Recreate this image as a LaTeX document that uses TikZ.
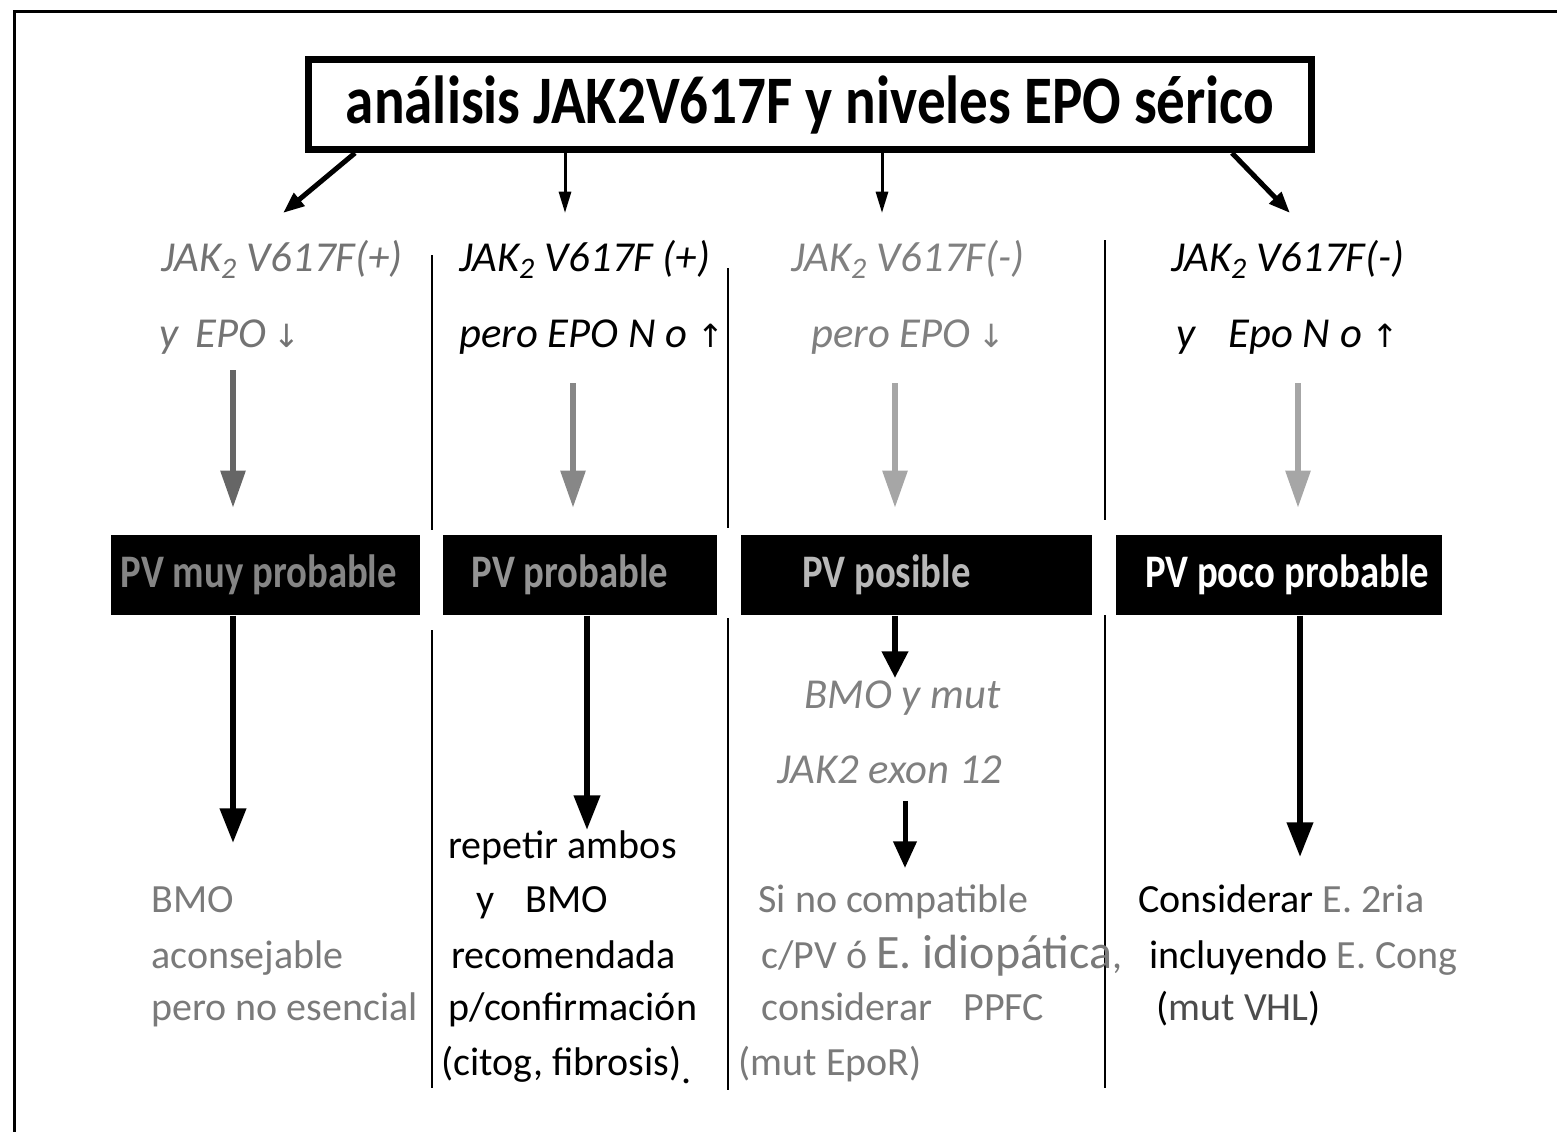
\documentclass[tikz,border=0pt]{standalone}
\usepackage{fontspec}
\setmainfont{Carlito}
\newfontfamily\arrowfont{DejaVu Sans}
\usetikzlibrary{arrows.meta}

\tikzset{every picture/.style={line width=0.75pt}}
\tikzset{
  titlebox/.style={draw, line width=5.25pt, minimum width=752pt, minimum height=67.5pt, inner sep=0pt},
  pvbox/.style={fill=black, inner sep=0pt, minimum height=60pt, font=\fontsize{35}{40}\selectfont\bfseries},
  hdtext/.style={inner sep=0.75pt, anchor=base west, font=\fontsize{32}{38}\selectfont\itshape},
  bodytext/.style={inner sep=0.75pt, anchor=base west, font=\fontsize{30}{36}\selectfont},
  toparrow/.style={line width=2.25pt, -{Triangle[length=16pt,width=9pt]}},
  diagarrow/.style={line width=3.75pt, -{Triangle[length=16pt,width=12pt]}},
  grayarrow/.style={line width=4.5pt, -{Triangle[length=28pt,width=18pt]}, shorten >=20pt},
  blackarrow/.style={line width=4.5pt, -{Triangle[length=26pt,width=19pt]}},
  sepline/.style={line width=1.5pt}
}
\newcommand{\narrow}[2][0.83]{\scalebox{#1}[1]{#2}}
\newcommand{\dn}{{\arrowfont\fontsize{24}{24}\selectfont\char"2193}}
\newcommand{\up}{{\arrowfont\fontsize{24}{24}\selectfont\char"2191}}

\begin{document}
\begin{tikzpicture}[x=0.75pt,y=0.75pt,yscale=-1,xscale=1]
\path[use as bounding box] (0,0) rectangle (1557,1132);

%Frame
\draw [line width=2.25pt] (1557,11) -- (14,11) -- (14,1132) ;

%Title box
\draw (810,104.5) node [titlebox] (title) {\fontsize{51}{54}\selectfont\bfseries\narrow[0.84]{análisis JAK2V617F y niveles EPO sérico}};

%Separators
\draw [sepline] (432,255) -- (432,530) (432,630) -- (432,1088) ;
\draw [sepline] (728,268) -- (728,528) (728,618) -- (728,1090) ;
\draw [sepline] (1105,240) -- (1105,520) (1105,615) -- (1105,1088) ;

% Text Node
\draw (160,271) node [hdtext, color=black!55] (hdA) {JAK\textsubscript{2} V617F(+)};
\draw (158,347) node [hdtext, color=black!55] (hdAb) {y\, EPO\,\dn};
% Text Node
\draw (458,271) node [hdtext] (hdB) {JAK\textsubscript{2} V617F (+)};
\draw (458,347) node [hdtext] (hdBb) {pero EPO N o \up};
% Text Node
\draw (790,271) node [hdtext, color=black!50] (hdC) {JAK\textsubscript{2} V617F(-)};
\draw (810,347) node [hdtext, color=black!50] (hdCb) {pero EPO\,\dn};
% Text Node
\draw (1170,271) node [hdtext] (hdD) {JAK\textsubscript{2} V617F(-)};
\draw (1175,347) node [hdtext] (hdDb) {y\;\; Epo N o \up};

%Arrows from title
\coordinate (tA) at (355,152) ;
\coordinate (eA) at (283,213) ;
\coordinate (eB) at (565,213) ;
\coordinate (eC) at (882,213) ;
\coordinate (tD) at (1232,152) ;
\coordinate (eD) at (1290,213) ;
\draw [diagarrow] (title.south -| tA) -- (eA) ;
\draw [toparrow] (title.south -| eB) -- (eB) ;
\draw [toparrow] (title.south -| eC) -- (eC) ;
\draw [diagarrow] (title.south -| tD) -- (eD) ;

%PV boxes
\draw (265.5,575) node [pvbox, minimum width=231.75pt, text=black!48] (boxA) {\narrow{PV muy probable}\rule{10pt}{0pt}};
\draw (580,575) node [pvbox, minimum width=205.5pt, text=black!42] (boxB) {\narrow{PV probable}\rule{15pt}{0pt}};
\draw (916.5,575) node [pvbox, minimum width=263.25pt, text=black!28] (boxC) {\narrow{PV posible}\rule{45pt}{0pt}};
\draw (1279,575) node [pvbox, minimum width=244.5pt, text=white] (boxD) {\rule{12pt}{0pt}\narrow{PV poco probable}};

%Gray arrows
\coordinate (gA) at (233,370) ;
\coordinate (gB) at (573,383) ;
\coordinate (gC) at (895,383) ;
\coordinate (gD) at (1298,383) ;
\draw [grayarrow, color=black!60] (gA) -- (boxA.north -| gA) ;
\draw [grayarrow, color=black!47] (gB) -- (boxB.north -| gB) ;
\draw [grayarrow, color=black!35] (gC) -- (boxC.north -| gC) ;
\draw [grayarrow, color=black!35] (gD) -- (boxD.north -| gD) ;

%Black arrows
\coordinate (kA) at (233,843) ;
\coordinate (kB) at (587,830) ;
\coordinate (kC) at (895,678) ;
\coordinate (kD) at (1300,857) ;
\draw [blackarrow] (boxA.south -| kA) -- (kA) ;
\draw [blackarrow] (boxB.south -| kB) -- (kB) ;
\draw [blackarrow, -{Triangle[length=20pt,width=19pt]}] (boxC.south -| kC) -- (kC) ;
\draw [blackarrow] (boxD.south -| kD) -- (kD) ;

% Text Node
\draw (803,708) node [hdtext, color=black!50] (midC) {BMO y mut};
\draw (776,783) node [hdtext, color=black!50] (midCb) {JAK2 exon 12};
\coordinate (mC) at (905,868) ;
\draw [blackarrow, line width=3.75pt, -{Triangle[length=20pt,width=17pt]}] (midCb.south -| mC) [shorten <=12pt] -- (mC) ;

% Text Node
\draw (150,912) node [bodytext, color=black!52] (botA) {BMO};
\draw (150,968) node [bodytext, color=black!52] {aconsejable};
\draw (150,1020) node [bodytext, color=black!52] {pero no esencial};
% Text Node
\draw (447,858) node [bodytext] (botB) {repetir ambos};
\draw (475,912) node [bodytext] {y\;\; BMO};
\draw (450,968) node [bodytext] {recomendada};
\draw (447,1020) node [bodytext] {p/confirmación};
\draw (440,1075) node [bodytext] {(citog, fibrosis)\raisebox{-6pt}{.}};
% Text Node
\draw (757,912) node [bodytext, color=black!52] (botC) {Si no compatible};
\draw (760,968) node [bodytext, color=black!52] {c/PV ó {\fontsize{36}{40}\selectfont E. idiopática},};
\draw (760,1020) node [bodytext, color=black!52] {considerar\;\; PPFC};
\draw (737,1075) node [bodytext, color=black!52] {(mut EpoR)};
% Text Node
\draw (1137,912) node [bodytext] (botD) {Considerar {\color{black!52}E. 2ria}};
\draw (1148,968) node [bodytext] {incluyendo {\color{black!52}E. Cong}};
\draw (1155,1020) node [bodytext] {({\color{black!70}mut VHL})};

\end{tikzpicture}
\end{document}
